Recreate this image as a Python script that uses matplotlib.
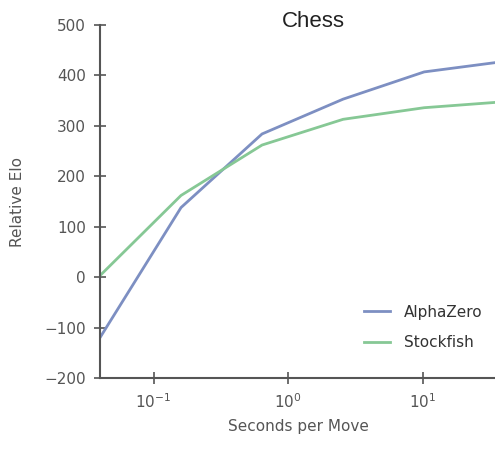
import numpy as np
import matplotlib
matplotlib.use('Agg')
import matplotlib.pyplot as plt

# seconds per move and relative elo
times = [0.04, 0.16, 0.64, 2.56, 10.24, 40.96]
alphazero = [-120, 138, 284, 353, 407, 428]
stockfish = [3, 162, 262, 313, 336, 348]

yticks = [-200, -100, 0, 100, 200, 300, 400, 500]


def main():
    fig = plt.figure(figsize=(4.95, 4.59), dpi=100)
    ax = fig.add_axes([0.202, 0.1765, 0.80, 0.769])

    ax.plot(times, alphazero, color='#7d8fc2', lw=2, label='AlphaZero')
    ax.plot(times, stockfish, color='#86c895', lw=2, label='Stockfish')

    ax.set_xscale('log')
    ax.set_xlim(0.04, 35)
    ax.set_ylim(-200, 500)
    ax.set_yticks(yticks)
    ax.minorticks_off()

    gray = '#555555'
    for side in ['top', 'right']:
        ax.spines[side].set_visible(False)
    for side in ['left', 'bottom']:
        ax.spines[side].set_color(gray)
        ax.spines[side].set_linewidth(1.5)
    ax.tick_params(direction='inout', length=8, width=1.2, color=gray,
                   labelcolor=gray, labelsize=11, pad=6)

    ax.set_xlabel('Seconds per Move', color=gray, fontsize=11, labelpad=6)
    ax.set_ylabel('Relative Elo', color=gray, fontsize=11, labelpad=14)
    ax.set_title('Chess', fontsize=16, family='Liberation Sans', x=0.54, y=0.97,
                 color='#222222')

    leg = ax.legend(loc='lower right', frameon=False, fontsize=11,
                    handlelength=1.7, handletextpad=0.9, labelspacing=1.0,
                    bbox_to_anchor=(1.0, 0.04))
    for t in leg.get_texts():
        t.set_color('#333333')

    fig.savefig('out.png', dpi=100)


if __name__ == "__main__":
    main()
